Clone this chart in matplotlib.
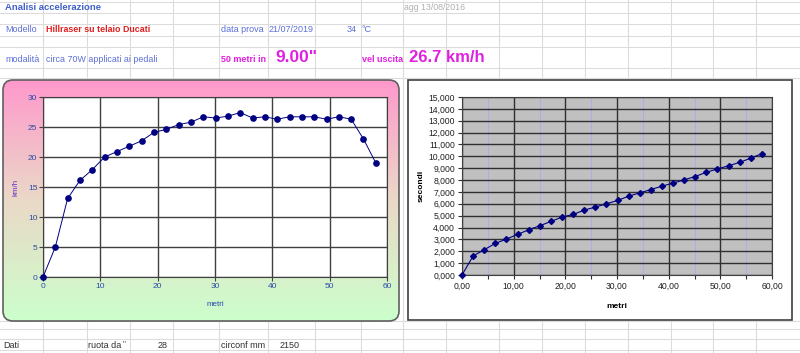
import numpy as np
import matplotlib
matplotlib.use('Agg')
import matplotlib.pyplot as plt
from matplotlib.patches import FancyBboxPatch, Rectangle
from matplotlib.ticker import MultipleLocator, FuncFormatter

plt.rcParams['font.family'] = ['Liberation Sans', 'DejaVu Sans']

# dati (metri, km/h, secondi)
metri = [0, 2.15, 4.3, 6.45, 8.6, 10.75, 12.9, 15.05, 17.2, 19.35, 21.5, 23.65, 25.8, 27.95,
         30.1, 32.25, 34.4, 36.55, 38.7, 40.85, 43.0, 45.15, 47.3, 49.45, 51.6, 53.75, 55.9, 58.05]
kmh = [0, 5.0, 13.1, 16.1, 17.9, 20.0, 20.9, 21.8, 22.7, 24.1, 24.6, 25.4, 25.8, 26.7,
       26.5, 26.8, 27.4, 26.5, 26.7, 26.3, 26.7, 26.7, 26.7, 26.3, 26.7, 26.3, 23.0, 19.0]
secondi = [0, 1.6, 2.13, 2.66, 3.03, 3.42, 3.81, 4.15, 4.51, 4.88, 5.10, 5.47, 5.72, 6.0,
           6.28, 6.64, 6.92, 7.2, 7.49, 7.74, 8.02, 8.30, 8.66, 8.94, 9.2, 9.5, 9.84, 10.23]

W, H = 800, 353
fig = plt.figure(figsize=(W / 100, H / 100), dpi=100)
fig.patch.set_facecolor('white')

# sfondo foglio di calcolo
bg = fig.add_axes([0, 0, 1, 1])
bg.set_xlim(0, W)
bg.set_ylim(H, 0)
bg.axis('off')

col_x = [43, 87, 130, 173, 219, 268, 315, 361, 403, 446, 499, 542, 585, 628, 671, 713, 756]
row_y = [2, 13, 24, 36, 47, 68, 78, 321, 329, 339, 350]
for x in col_x:
    bg.plot([x, x], [0, H], color='#dcdcdc', lw=0.8, zorder=0)
for y in row_y:
    bg.plot([0, W], [y, y], color='#dcdcdc', lw=0.8, zorder=0)

blu = '#5b6fd6'
mag = '#e020e0'
bg.text(5, 7, 'Analisi accelerazione', color='#4060c8', fontsize=6.8, fontweight='bold', va='center')
bg.text(404, 7, 'agg 13/08/2016', color='#b0b0b0', fontsize=6.3, va='center')
bg.text(5, 30, 'Modello', color=blu, fontsize=6.5, va='center')
bg.text(46, 30, 'Hillraser su telaio Ducati', color='#e02020', fontsize=6.4, fontweight='bold', va='center')
bg.text(221, 30, 'data prova', color=blu, fontsize=6.5, va='center')
bg.text(269, 30, '21/07/2019', color=blu, fontsize=6.5, va='center')
bg.text(357, 30, '34', color=blu, fontsize=6.5, va='center', ha='right')
bg.text(362, 30, '°C', color=blu, fontsize=6.5, va='center')
bg.text(5, 60, 'modalità', color=blu, fontsize=6.5, va='center')
bg.text(46, 60, 'circa 70W applicati ai pedali', color=blu, fontsize=6.4, va='center')
bg.text(221, 60, '50 metri in', color=mag, fontsize=6.5, fontweight='bold', va='center')
bg.text(275, 58, '9.00"', color=mag, fontsize=12.5, fontweight='bold', va='center')
bg.text(362, 60, 'vel uscita', color=mag, fontsize=6.5, fontweight='bold', va='center')
bg.text(409, 58, '26.7 km/h', color=mag, fontsize=12, fontweight='bold', va='center')
bg.text(3, 345, 'Dati', color='#303030', fontsize=6.5, va='center')
bg.text(88, 345, 'ruota da', color='#303030', fontsize=6.5, va='center')
bg.text(123, 344, '"', color='#303030', fontsize=6, va='center')
bg.text(168, 345, '28', color='#303030', fontsize=6.5, va='center', ha='right')
bg.text(221, 345, 'circonf mm', color='#303030', fontsize=6.5, va='center')
bg.text(300, 345, '2150', color='#303030', fontsize=6.5, va='center', ha='right')

# riquadro grafico 1 con sfumatura rosa -> verde
box1 = FancyBboxPatch((3, 80), 396, 241, boxstyle='round,pad=0,rounding_size=10',
                      facecolor='none', edgecolor='#606060', lw=1.2, zorder=3)
bg.add_patch(box1)
top = np.array([1.0, 0.60, 0.80])
mid = np.array([0.92, 0.85, 0.78])
bot = np.array([0.80, 1.0, 0.80])
t = np.linspace(0, 1, 200)[:, None]
grad = np.where(t < 0.5, top + (mid - top) * (t / 0.5), mid + (bot - mid) * ((t - 0.5) / 0.5))
grad = np.repeat(grad[:, None, :], 2, axis=1)
im = bg.imshow(grad, extent=[3, 399, 321, 80], aspect='auto', zorder=2)
im.set_clip_path(box1)

# riquadro grafico 2
bg.add_patch(Rectangle((408, 80), 384, 240, facecolor='white', edgecolor='#404040', lw=1.2, zorder=2))


def frac(x0, y0, x1, y1):
    return [x0 / W, (H - y1) / H, (x1 - x0) / W, (y1 - y0) / H]


# grafico velocita
ax1 = fig.add_axes(frac(43, 97, 387, 277))
ax1.set_facecolor('white')
ax1.plot(metri, kmh, color='#000080', lw=0.7, marker='o', ms=3.8, zorder=3, clip_on=False)
ax1.set_xlim(0, 60)
ax1.set_ylim(0, 30)
ax1.xaxis.set_major_locator(MultipleLocator(10))
ax1.yaxis.set_major_locator(MultipleLocator(5))
ax1.grid(True, color='#404040', lw=1)
ax1.set_axisbelow(True)
for s in ax1.spines.values():
    s.set_color('#404040')
ax1.tick_params(labelsize=6, colors='#404040', labelcolor='#2a4aa8', length=3, width=0.8, pad=1)
ax1.set_xlabel('metri', fontsize=5.8, color='#2a4aa8', labelpad=8)
ax1.set_ylabel('km/h', fontsize=5.8, color='#6030c0', labelpad=6)

# grafico tempi
ax2 = fig.add_axes(frac(462, 97, 772, 275))
ax2.set_facecolor('#c0c0c0')
ax2.plot(metri, secondi, color='#000080', lw=0.8, marker='D', ms=3, zorder=3, clip_on=False)
ax2.set_xlim(0, 60)
ax2.set_ylim(0, 15)
ax2.xaxis.set_major_locator(MultipleLocator(10))
ax2.xaxis.set_minor_locator(MultipleLocator(5))
ax2.yaxis.set_major_locator(MultipleLocator(1))
ax2.grid(True, which='major', color='#303030', lw=1)
ax2.grid(True, which='minor', axis='x', color='#b8a8e8', lw=0.8)
ax2.set_axisbelow(True)
ax2.xaxis.set_major_formatter(FuncFormatter(lambda v, p: f'{v:.2f}'.replace('.', ',')))
ax2.yaxis.set_major_formatter(FuncFormatter(lambda v, p: f'{v:.3f}'.replace('.', ',')))
for s in ax2.spines.values():
    s.set_color('#404040')
ax2.tick_params(which='both', labelsize=6.2, colors='#303030', labelcolor='#202020', length=3, width=0.8, pad=2)
ax2.set_xlabel('metri', fontsize=6, fontweight='bold', labelpad=9)
ax2.set_ylabel('secondi', fontsize=6, fontweight='bold', labelpad=3)

fig.savefig('out.png', dpi=100)
